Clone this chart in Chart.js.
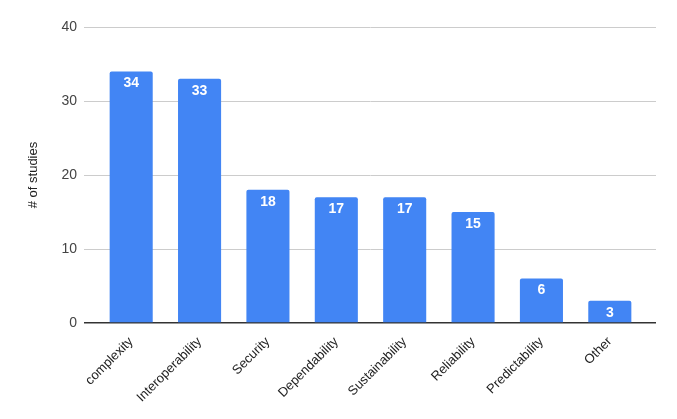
<!DOCTYPE html>
<html lang="en">

<head>
    <meta charset="UTF-8">
    <script src="https://cdn.jsdelivr.net/npm/chart.js@4.4.0/dist/chart.umd.min.js"></script>
    <style>
        html, body { margin: 0; padding: 0; background: #fff; }
        #wrap { width: 677px; height: 419px; }
    </style>
</head>

<body>
    <div id="wrap"><canvas id="myChart"></canvas></div>
    <script>
        const categories = ['complexity', 'Interoperability', 'Security', 'Dependability', 'Sustainability', 'Reliability', 'Predictability', 'Other'];
        const studies = [34, 33, 18, 17, 17, 15, 6, 3];
        const yTicks = [0, 10, 20, 30, 40];

        const font = 'Arial, "Liberation Sans", sans-serif';
        const gridColor = (c) => c.tick && c.tick.value === 0 ? '#333333' : '#cccccc';
        const gridWidth = (c) => c.tick && c.tick.value === 0 ? 1.5 : 1;

        // white value labels inside the top of each bar
        const barLabels = {
            id: 'barLabels',
            afterDatasetsDraw(chart) {
                const ctx = chart.ctx;
                const meta = chart.getDatasetMeta(0);
                ctx.save();
                ctx.fillStyle = '#ffffff';
                ctx.font = 'bold 14px ' + font;
                ctx.textAlign = 'center';
                ctx.textBaseline = 'top';
                meta.data.forEach((bar, i) => {
                    ctx.fillText(studies[i], bar.x, bar.y + 5);
                });
                ctx.restore();
            }
        };

        new Chart(document.getElementById('myChart'), {
            type: 'bar',
            data: {
                labels: categories,
                datasets: [{
                    label: '# of studies',
                    data: studies,
                    backgroundColor: '#4285f4',
                    borderRadius: { topLeft: 2, topRight: 2 },
                    borderSkipped: 'bottom',
                    barPercentage: 0.63,
                    categoryPercentage: 1
                }]
            },
            options: {
                responsive: true,
                maintainAspectRatio: false,
                animation: false,
                layout: { padding: { top: 27, left: 26, right: 0, bottom: 0 } },
                plugins: {
                    legend: { display: false },
                    tooltip: { enabled: false }
                },
                scales: {
                    x: {
                        grid: { display: false },
                        border: { display: false },
                        ticks: {
                            color: '#222222',
                            font: { family: font, size: 13 },
                            minRotation: 45,
                            maxRotation: 45,
                            padding: 3
                        },
                        afterFit(scale) { scale.height = 96; }
                    },
                    y: {
                        min: 0,
                        max: 40,
                        afterBuildTicks(scale) { scale.ticks = yTicks.map(v => ({ value: v })); },
                        grid: { color: gridColor, lineWidth: gridWidth, tickLength: 13 },
                        border: { display: false },
                        ticks: {
                            color: '#444444',
                            font: { family: font, size: 14 },
                            padding: 7
                        },
                        title: {
                            display: true,
                            text: '# of studies',
                            color: '#222222',
                            font: { family: font, size: 13 },
                            padding: 0
                        },
                        afterFit(scale) { scale.width = 71; }
                    },
                    y2: {
                        position: 'right',
                        min: 0,
                        max: 40,
                        afterBuildTicks(scale) { scale.ticks = yTicks.map(v => ({ value: v })); },
                        grid: { color: gridColor, lineWidth: gridWidth, drawOnChartArea: false, tickLength: 12 },
                        border: { display: false },
                        ticks: { display: false },
                        afterFit(scale) { scale.width = 33; }
                    }
                }
            },
            plugins: [barLabels]
        });
    </script>
</body>

</html>
